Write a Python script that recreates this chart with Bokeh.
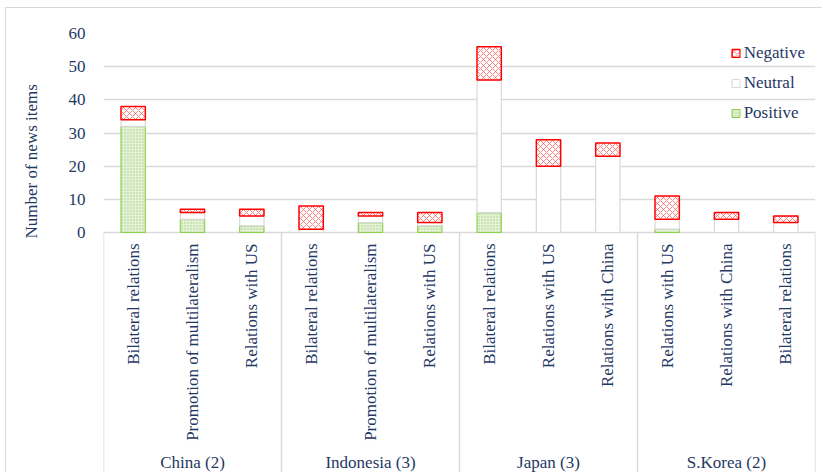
import math
from bokeh.plotting import figure
from bokeh.models import (ColumnDataSource, FactorRange, Range1d, FixedTicker,
                          Legend, LegendItem, Title)
from bokeh.core.properties import value
from bokeh.transform import stack
from bokeh.embed import file_html
from bokeh.resources import INLINE

# ---- data ----
countries = ["China (2)", "China (2)", "China (2)",
             "Indonesia (3)", "Indonesia (3)", "Indonesia (3)",
             "Japan (3)", "Japan (3)", "Japan (3)",
             "S.Korea (2)", "S.Korea (2)", "S.Korea (2)"]
topics = ["Bilateral relations", "Promotion of multilateralism", "Relations with US",
          "Bilateral relations", "Promotion of multilateralism", "Relations with US",
          "Bilateral relations", "Relations with US", "Relations with China",
          "Relations with US", "Relations with China", "Bilateral relations"]
positive = [32, 4, 2, 0, 3, 2, 6, 0, 0, 1, 0, 0]
neutral = [2, 2, 3, 1, 2, 1, 40, 20, 23, 3, 4, 3]
negative = [4, 1, 2, 7, 1, 3, 10, 8, 4, 7, 2, 2]
y_ticks = [0, 10, 20, 30, 40, 50, 60]
y_title = "Number of news items"
series = ["Positive", "Neutral", "Negative"]

NAVY = "#1F3864"
GRID = "#D9D9D9"
FONT = "'Liberation Serif'"
FS = "17px"

groups = []
for c in countries:
    if c not in groups:
        groups.append(c)
group_sizes = [countries.count(g) for g in groups]

factors = list(zip(countries, topics))
src = ColumnDataSource(dict(x=factors, topic=topics,
                            Positive=positive, Neutral=neutral, Negative=negative))

W, H = 817, 465          # page box minus the 5/7 px offset and 1 px border
left, right, top, bottom = 97, 8, 25, 0
ymax = 60
px_per_unit = (232 - 33) / ymax
ymin = -(473 - 232) / px_per_unit

p = figure(width=W, height=H, output_backend="svg", toolbar_location=None,
           x_range=FactorRange(*factors, range_padding=0, group_padding=0, factor_padding=0),
           y_range=Range1d(ymin, ymax),
           min_border_left=left, min_border_right=right,
           min_border_top=top, min_border_bottom=bottom)
p.styles = {"margin-left": "5px", "margin-top": "7px",
            "border-left": "1px solid #D9D9D9", "border-top": "1px solid #D9D9D9"}
p.outline_line_color = None
p.xaxis.visible = False
p.xgrid.visible = False
p.ygrid.ticker = FixedTicker(ticks=y_ticks)
p.ygrid.grid_line_color = GRID
p.ygrid.grid_line_width = 1.5

ax = p.yaxis[0]
ax.ticker = FixedTicker(ticks=y_ticks)
ax.axis_line_color = None
ax.major_tick_line_color = None
ax.minor_tick_line_color = None
ax.major_label_standoff = 12
ax.major_label_text_font = FONT
ax.major_label_text_font_size = FS
ax.major_label_text_color = NAVY
ax.axis_label = "\u00a0"
ax.axis_label_standoff = 12
ax.axis_label_text_font_size = "4px"

styles = {
    "Positive": dict(fill_color="#E3F1D5", line_color="#92D050", line_width=1.2,
                     hatch_pattern="dot", hatch_color="#A9D08E", hatch_scale=3, hatch_weight=1),
    "Neutral": dict(fill_color="white", line_color=GRID, line_width=1.2),
    "Negative": dict(fill_color="white", line_color="#FF0000", line_width=1.5,
                     hatch_pattern="diagonal_cross", hatch_color="#FF5050",
                     hatch_scale=6, hatch_weight=0.7),
}
renderers = {}
for i, s in enumerate(series):
    renderers[s] = p.vbar(x="x", width=0.41, bottom=stack(*series[:i]),
                          top=stack(*series[:i + 1]), source=src, **styles[s])

# separators under the axis
bounds = [0]
for n in group_sizes:
    bounds.append(bounds[-1] + n)
p.segment(x0=bounds, y0=[0] * len(bounds), x1=bounds, y1=[ymin] * len(bounds),
          line_color=GRID, line_width=1.5)

# category labels
p.text(x="x", y=0, text="topic", source=src, angle=math.pi / 2, y_offset=11,
       text_align="right", text_baseline="middle", text_font=value(FONT),
       text_font_size=FS, text_color=NAVY)
# group labels
p.text(x=groups, y=[ymin] * len(groups), text=groups, y_offset=-11,
       text_align="center", text_baseline="middle", text_font=value(FONT),
       text_font_size=FS, text_color=NAVY)

# y-axis title
p.add_layout(Title(text=y_title, align="left", offset=473 - 238, text_font=FONT,
                   text_font_size=FS, text_font_style="normal", text_color=NAVY),
             "left")

legend = Legend(items=[LegendItem(label=s, renderers=[renderers[s]]) for s in reversed(series)],
                location="top_right", margin=10, padding=0, spacing=10,
                glyph_width=10, glyph_height=10, label_height=20, label_standoff=3,
                label_text_font=FONT, label_text_font_size=FS, label_text_color=NAVY,
                background_fill_alpha=0, border_line_color=None)
p.add_layout(legend)

open("out.html", "w").write(file_html(p, INLINE))
